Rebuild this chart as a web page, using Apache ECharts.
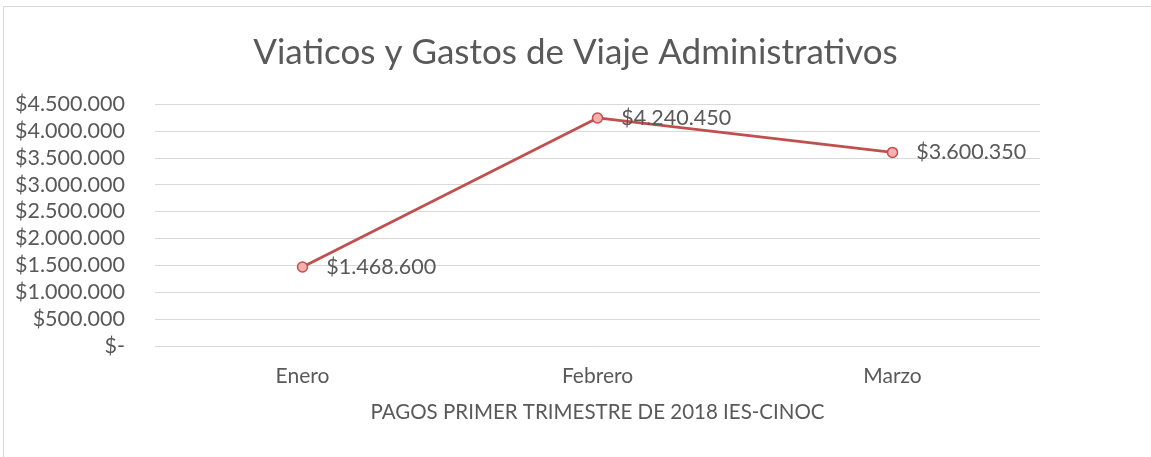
<!DOCTYPE html>
<html>
<head>
<meta charset="utf-8">
<script src="https://cdn.jsdelivr.net/npm/echarts@6/dist/echarts.min.js"></script>
<style>
    html, body { margin: 0; padding: 0; background: #fff; }
    #line { width: 1151px; height: 457px; }
</style>
</head>
<body>
<div id="line"></div>
<script>
    // datos
    const meses = ['Enero', 'Febrero', 'Marzo'];
    const pagos = [1468600, 4240450, 3600350];
    const yMin = 0;
    const yMax = 4500000;
    const yPaso = 500000;

    function pesos(v) {
        if (v === 0) return '$-';
        return '$' + String(Math.round(v)).replace(/\B(?=(\d{3})+(?!\d))/g, '.');
    }

    const myChart = echarts.init(document.getElementById('line'));
    const option = {
        animation: false,
        textStyle: { fontFamily: 'Lato, "Open Sans", sans-serif' },
        graphic: [{
            type: 'rect',
            shape: { x: 3.5, y: 6.5, width: 1300, height: 600 },
            style: { fill: 'none', stroke: '#d9d9d9', lineWidth: 1 },
            silent: true
        }],
        title: {
            text: 'Viaticos y Gastos de Viaje Administrativos',
            left: 'center',
            top: 30,
            textStyle: { fontSize: 35, fontWeight: 'normal', color: '#595959' }
        },
        grid: { left: 155, right: 111, top: 104, bottom: 111 },
        xAxis: {
            type: 'category',
            data: meses,
            boundaryGap: true,
            axisLine: { show: false },
            axisTick: { show: false },
            axisLabel: { fontSize: 21, color: '#595959', margin: 20 },
            name: 'PAGOS PRIMER TRIMESTRE DE 2018 IES-CINOC',
            nameLocation: 'middle',
            nameGap: 56,
            nameTextStyle: { fontSize: 20.5, color: '#595959' }
        },
        yAxis: {
            type: 'value',
            min: yMin,
            max: yMax,
            interval: yPaso,
            axisLine: { show: false },
            axisTick: { show: false },
            splitLine: { lineStyle: { color: '#d9d9d9', width: 1 } },
            axisLabel: {
                fontSize: 21.5, color: '#595959', margin: 30,
                formatter: pesos
            }
        },
        series: [{
            type: 'line',
            data: pagos,
            symbol: 'circle',
            symbolSize: 10,
            lineStyle: { color: '#c0504d', width: 2.75 },
            itemStyle: { color: '#f7b0b0', borderColor: '#c0504d', borderWidth: 1.5 },
            label: {
                show: true,
                position: 'right',
                distance: 18,
                fontSize: 21.5,
                color: '#595959',
                formatter: p => pesos(p.value)
            }
        }]
    };
    myChart.setOption(option);
</script>
</body>
</html>
